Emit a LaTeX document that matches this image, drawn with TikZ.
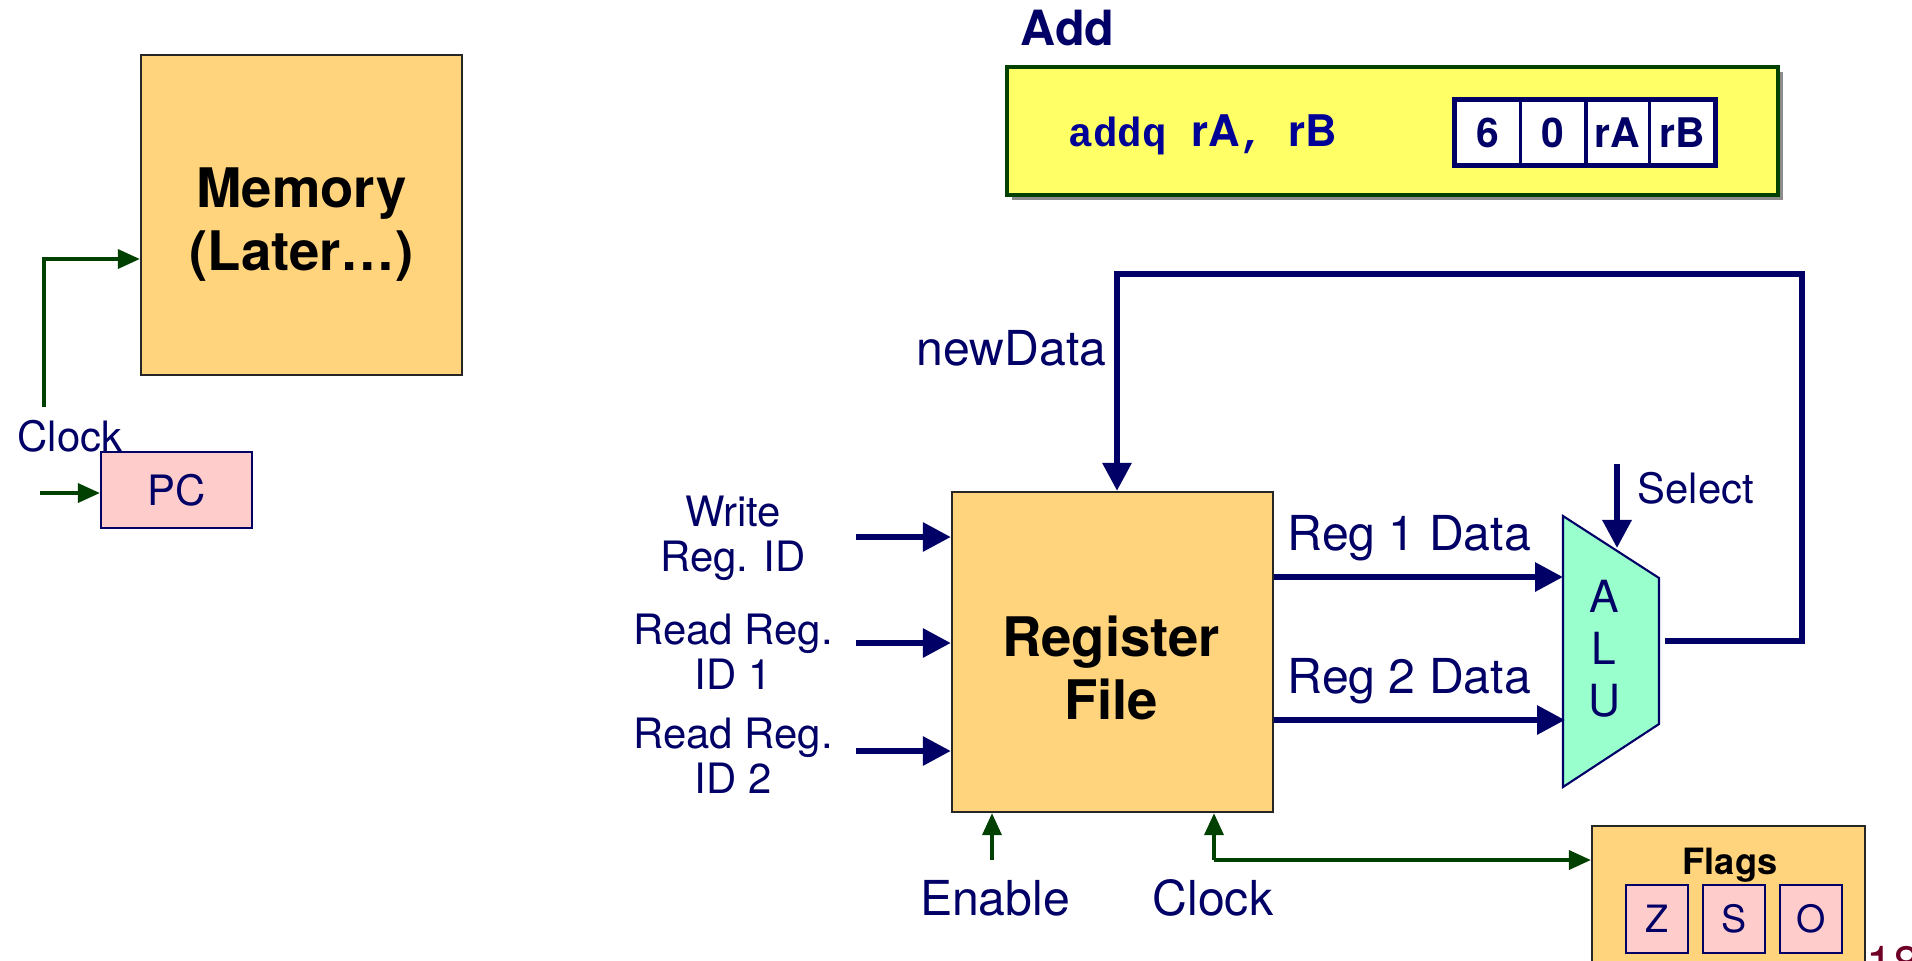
\documentclass[tikz,border=0pt]{standalone}
\usepackage{fontspec}
\setmainfont{TeX Gyre Heros}
\setsansfont{TeX Gyre Heros}
\setmonofont{Liberation Mono}
\usetikzlibrary{arrows.meta,shadows}

\definecolor{navy}{RGB}{0,0,102}
\definecolor{asmblue}{RGB}{0,0,150}
\definecolor{dkgreen}{RGB}{0,64,0}
\definecolor{orng}{RGB}{255,212,124}
\definecolor{yel}{RGB}{255,255,102}
\definecolor{pinkreg}{RGB}{255,204,204}
\definecolor{mint}{RGB}{153,255,204}
\definecolor{pgred}{RGB}{110,0,40}

\newcommand\lblfont{\fontsize{11.9}{12.8}\selectfont}
\newcommand\wirefont{\fontsize{13.7}{15}\selectfont}
\newcommand\unitfont{\fontsize{15.5}{17.9}\selectfont\bfseries}
\newcommand\addfont{\fontsize{13.8}{16}\selectfont\bfseries}
\newcommand\flagfont{\fontsize{10.3}{12}\selectfont\bfseries}
\newcommand\zsofont{\fontsize{10.7}{12}\selectfont}
\newcommand\asmfont{\fontsize{11.6}{13}\selectfont\bfseries}
\newcommand\alufont{\fontsize{12.6}{14.8}\selectfont}

\begin{document}
\begin{tikzpicture}[x=0.01cm,y=-0.01cm,
  bus/.style={draw=navy,line width=1.75pt,-{Triangle[length=0.28cm,width=0.28cm]}},
  clk/.style={draw=dkgreen,line width=1.05pt,-{Triangle[length=0.22cm,width=0.19cm]}},
  lbl/.style={text=navy,font=\lblfont,inner sep=0pt},
  wlbl/.style={lbl,font=\wirefont},
  unit/.style={draw=black!85,fill=orng,line width=0.6pt,inner sep=0pt},
  bold/.style={text=black,font=\unitfont,align=center,inner sep=0pt},
  reg/.style={draw=navy,fill=pinkreg,line width=0.6pt,text=navy,inner sep=0pt},
  cell/.style={draw=navy,fill=white,line width=0.5pt,text=navy,font=\asmfont,
    minimum width=0.645cm,minimum height=0.65cm,inner sep=0pt}]
  \useasboundingbox (0,0) rectangle (1912,960);

  % memory and pc
  \node[unit,minimum width=3.21cm,minimum height=3.2cm] (mem) at (301.5,215) {};
  \node[bold,anchor=north] (memtxt) at (301.5,167) {Memory\\(Later…)};
  \coordinate (mclk) at (44,407);
  \coordinate (mclkT) at (44,259);
  \draw[clk] (mclk) |- (mem.west |- mclkT);
  \node[lbl,anchor=base west] (mclklbl) at (17,451) {Clock};
  \node[reg,minimum width=1.51cm,minimum height=0.76cm,font=\lblfont] (pc) at (176.5,490) {PC};
  \coordinate (pcin) at (40,493);
  \draw[clk] (pcin) -- (pc.west |- pcin);

  % instruction
  \node[text=navy,font=\addfont,anchor=base west,inner sep=0pt] (addttl) at (1020,45) {Add};
  \node[draw=dkgreen,fill=yel,line width=1.1pt,minimum width=7.71cm,minimum height=1.28cm,
    drop shadow={shadow xshift=0.05cm,shadow yshift=-0.05cm,fill=black!45,opacity=1}]
    (instr) at (1392.5,131) {};
  \node[text=asmblue,font=\asmfont,anchor=base west,inner sep=0pt] (asm) at (1068,146)
    {\texttt{addq }{\fontsize{12.4}{13}\selectfont rA}\texttt{, }{\fontsize{12.4}{13}\selectfont rB}};
  \foreach \t/\x [count=\i] in {6/1488,0/1553,rA/1617,rB/1682}
    \node[cell] (c\i) at (\x,132.5) {\t};
  \draw[navy,line width=1.4pt] (c1.north west) rectangle (c4.south east);
  \draw[navy,line width=1pt] (c2.north east) -- (c2.south east);

  % register file
  \node[unit,minimum width=3.21cm,minimum height=3.2cm] (rf) at (1112.5,652) {};
  \node[bold,anchor=north] (rftxt) at (1111,615) {Register\\File};
  \foreach \y/\n in {537/wr,643/rdA,751/rdB}{
    \coordinate (\n) at (856,\y);
    \draw[bus] (\n) -- (rf.west |- \n);
  }
  \node[lbl,align=center,anchor=north] (wrlbl) at (733,495) {Write\\Reg. ID};
  \node[lbl,align=center,anchor=north] (rdAlbl) at (733,613) {Read Reg.\\ID 1};
  \node[lbl,align=center,anchor=north] (rdBlbl) at (733,717) {Read Reg.\\ID 2};

  % alu
  \coordinate (aluA) at (1563,516);
  \coordinate (aluB) at (1659,578);
  \coordinate (aluC) at (1659,724);
  \coordinate (aluD) at (1563,787);
  \draw[navy,fill=mint,line width=0.6pt] (aluA) -- (aluB) -- (aluC) -- (aluD) -- cycle;
  \node[lbl,font=\alufont,align=center] (alutxt) at (1604,649) {A\\L\\U};
  \coordinate (aluIn1) at (1563,577);
  \coordinate (aluIn2) at (1565,720);
  \draw[bus] (rf.east |- aluIn1) -- (aluIn1);
  \draw[bus] (rf.east |- aluIn2) -- (aluIn2);
  \node[wlbl,anchor=base west] (r1lbl) at (1287,550) {Reg 1 Data};
  \node[wlbl,anchor=base west] (r2lbl) at (1287,693) {Reg 2 Data};
  \coordinate (sel) at (1617,464);
  \coordinate (selT) at (1617,548);
  \draw[bus] (sel) -- (selT);
  \node[lbl,anchor=base west] (sellbl) at (1637,503) {Select};

  % write back
  \coordinate (aluOut) at (1665,641);
  \coordinate (loopTR) at (1802,274);
  \coordinate (nd) at (1117,274);
  \draw[bus] (aluOut) -| (loopTR) -| (rf.north -| nd);
  \node[wlbl,anchor=base west] (ndlbl) at (916,365) {newData};

  % flags
  \node[unit,anchor=north,minimum width=2.73cm,minimum height=1.8cm] (flags) at (1728.5,825) {};
  \node[text=black,font=\flagfont,anchor=base,inner sep=0pt] (flagtxt) at (1730,874) {Flags};
  \foreach \t/\x in {Z/1657,S/1734,O/1811}
    \node[reg,minimum width=0.62cm,minimum height=0.68cm,font=\zsofont] (f\t) at (\x,919) {\t};

  % enable and clock
  \coordinate (en) at (992,860);
  \coordinate (ck) at (1214,860);
  \draw[clk] (en) -- (rf.south -| en);
  \draw[clk] (ck) -- (rf.south -| ck);
  \draw[clk] (ck) -- (flags.west |- ck);
  \node[wlbl,anchor=base] (enlbl) at (995,915) {Enable};
  \node[wlbl,anchor=base] (cklbl) at (1213,915) {Clock};

  \node[text=pgred,font=\wirefont,anchor=north west,inner sep=0pt] (pgno) at (1866,946) {18};
\end{tikzpicture}
\end{document}
